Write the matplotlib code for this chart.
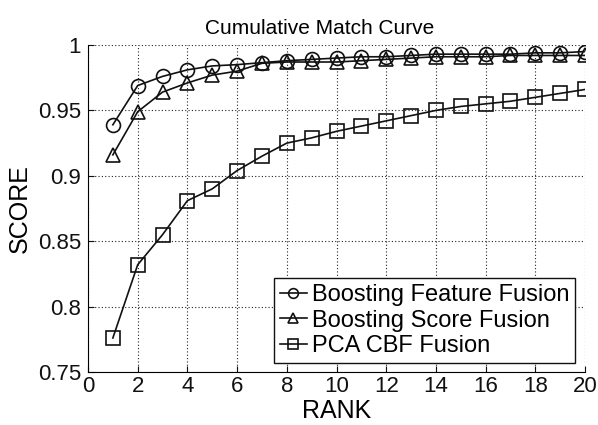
import numpy as np
import matplotlib
matplotlib.use("Agg")
import matplotlib.pyplot as plt

plt.rcParams["font.family"] = ["Liberation Sans", "DejaVu Sans"]

# data
rank = list(range(1, 21))
feature_fusion = [0.939, 0.969, 0.976, 0.981, 0.984, 0.985, 0.9865, 0.988, 0.989, 0.990,
                  0.991, 0.991, 0.992, 0.993, 0.993, 0.993, 0.993, 0.994, 0.994, 0.995]
score_fusion = [0.916, 0.949, 0.964, 0.971, 0.977, 0.980, 0.986, 0.987, 0.987, 0.987,
                0.988, 0.989, 0.990, 0.991, 0.991, 0.991, 0.992, 0.992, 0.992, 0.992]
pca_cbf = [0.776, 0.832, 0.855, 0.881, 0.890, 0.904, 0.915, 0.925, 0.929, 0.934,
           0.938, 0.942, 0.946, 0.950, 0.953, 0.955, 0.957, 0.960, 0.963, 0.966]
labels = ["Boosting Feature Fusion", "Boosting Score Fusion", "PCA CBF Fusion"]

fig = plt.figure(figsize=(5.98, 4.25), dpi=100)
ax = fig.add_axes([88 / 598, 1 - 372 / 425, (585 - 88) / 598, (372 - 45) / 425])

mk = dict(color="#111111", lw=1.2, mfc="none", mec="#111111", mew=1.2, markersize=10)
ax.plot(rank, feature_fusion, "-o", label=labels[0], **mk)
ax.plot(rank, score_fusion, "-^", label=labels[1], **mk)
ax.plot(rank, pca_cbf, "-s", label=labels[2], **mk)

ax.set_xlim(0, 20)
ax.set_ylim(0.75, 1.0)
ax.set_xticks(range(0, 21, 2))
ax.set_yticks([0.75, 0.8, 0.85, 0.9, 0.95, 1.0])
ax.set_yticklabels(["0.75", "0.8", "0.85", "0.9", "0.95", "1"])
ax.tick_params(direction="in", labelsize=16, length=4, top=False, right=False,
               colors="#111111")
ax.tick_params(axis="x", pad=3)
ax.tick_params(axis="y", pad=5)
ax.grid(True, linestyle=(0, (1, 2)), color="#222222", lw=0.8)
ax.spines["top"].set_visible(False)
ax.spines["right"].set_visible(False)

ax.set_xlabel("RANK", fontsize=18, labelpad=1)
ax.set_ylabel("SCORE", fontsize=18, labelpad=4)
ax.set_title("Cumulative Match Curve", fontsize=15, pad=8, x=0.467)

leg = ax.legend(loc="lower right", bbox_to_anchor=(0.98, 0.027), fontsize=17,
                fancybox=False, framealpha=1, edgecolor="#111111",
                handlelength=1.15, handletextpad=0.2, markerscale=0.7,
                borderpad=0.25, labelspacing=0.15, borderaxespad=0.0)
leg.get_frame().set_linewidth(1.0)

fig.savefig("out.png", dpi=100)
